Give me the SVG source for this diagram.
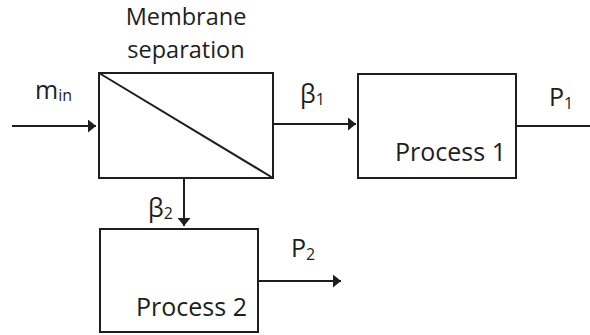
<svg xmlns="http://www.w3.org/2000/svg" width="590" height="335" viewBox="0 0 590 335">
  <style>
    .box { fill: #ffffff; stroke: #1e1e1e; stroke-width: 2; }
    .line { fill: none; stroke: #1e1e1e; stroke-width: 2; }
    .lbl { font-family: "Open Sans", "Noto Sans", sans-serif; font-size: 25px; fill: #1e1e1e; }
    .sub { font-size: 16px; }
  </style>
  <defs>
    <marker id="arrow" markerWidth="9" markerHeight="13" refX="8" refY="6.5" orient="auto" markerUnits="userSpaceOnUse">
      <path d="M0,0 L8,6.5 L0,13 Z" fill="#1e1e1e"/>
    </marker>
  </defs>

  <!-- membrane separation unit -->
  <g id="membrane">
    <rect class="box" x="99" y="73" width="174" height="105"/>
    <line class="line" x1="99" y1="73" x2="273" y2="178"/>
    <text class="lbl" style="font-size:23.5px" text-anchor="middle"><tspan x="186" y="25.4">Membrane</tspan><tspan x="186" y="57.5">separation</tspan></text>
  </g>

  <!-- downstream process 1 -->
  <g id="process1">
    <rect class="box" x="358" y="74" width="158" height="104"/>
    <text class="lbl" x="506" y="161" text-anchor="end">Process 1</text>
  </g>

  <!-- downstream process 2 -->
  <g id="process2">
    <rect class="box" x="100" y="229" width="158" height="103"/>
    <text class="lbl" x="247" y="316" text-anchor="end">Process 2</text>
  </g>

  <!-- streams -->
  <g id="connectors">
    <line class="line" x1="12" y1="126" x2="96" y2="126" marker-end="url(#arrow)"/>
    <line class="line" x1="273" y1="124" x2="356" y2="124" marker-end="url(#arrow)"/>
    <line class="line" x1="516" y1="126" x2="590" y2="126"/>
    <line class="line" x1="184" y1="178" x2="184" y2="226" marker-end="url(#arrow)"/>
    <line class="line" x1="258" y1="281" x2="341" y2="281" marker-end="url(#arrow)"/>
  </g>

  <!-- stream labels -->
  <g id="labels">
    <text class="lbl" x="35" y="99">m<tspan class="sub" dy="2">in</tspan></text>
    <text class="lbl" x="300" y="103">β<tspan class="sub" dy="2">1</tspan></text>
    <text class="lbl" x="549" y="106">P<tspan class="sub" dy="3">1</tspan></text>
    <text class="lbl" x="148" y="217">β<tspan class="sub" dy="2">2</tspan></text>
    <text class="lbl" x="291" y="257">P<tspan class="sub" dy="3">2</tspan></text>
  </g>
</svg>
